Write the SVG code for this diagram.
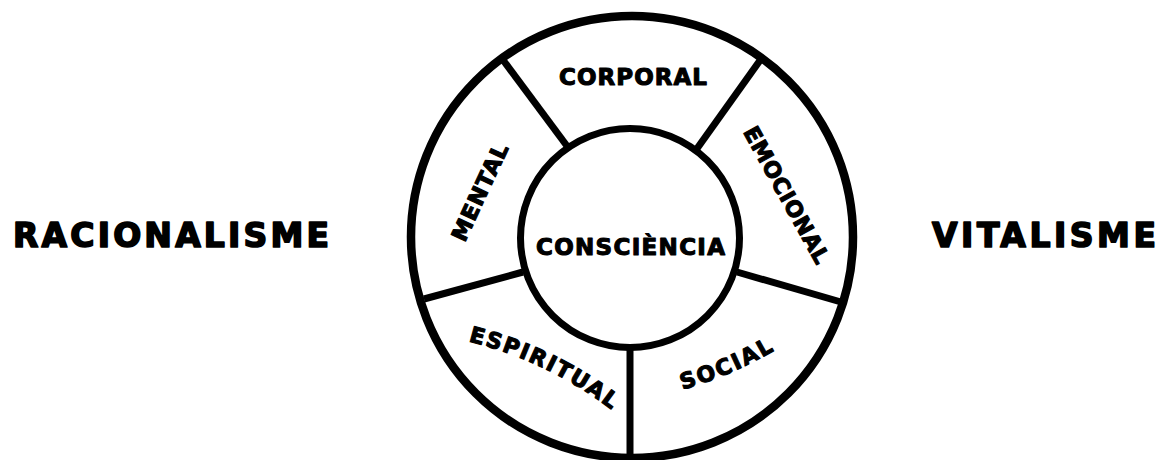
<svg xmlns="http://www.w3.org/2000/svg" width="1164" height="460" viewBox="0 0 1164 460">
<style>
.lbl{font-family:"DejaVu Sans","Liberation Sans",sans-serif;font-weight:bold;fill:#000;stroke:#000;stroke-width:1.1;stroke-linejoin:round;}
.big{font-size:33px;stroke-width:1.7;}
.sec{font-size:22px;}
.sec23{font-size:23px;}
.ring{fill:none;stroke:#000;}
.spoke{stroke:#000;stroke-width:7;stroke-linecap:butt;}
</style>
<defs>
<path id="espPath" d="M 463 340 A 390 390 0 0 1 617 414"/>
<path id="socPath" d="M 678 391 A 400 400 0 0 0 780 347"/>
</defs>
<rect width="1164" height="460" fill="#fff"/>
<g id="wheel">
<circle class="ring" cx="632" cy="237" r="221" stroke-width="8.5"/>
</g>
<g id="connectors">
<line class="spoke" x1="567" y1="146" x2="503" y2="60"/>
<line class="spoke" x1="696" y1="150" x2="761" y2="59"/>
<line class="spoke" x1="737" y1="272" x2="841" y2="302"/>
<line class="spoke" x1="630" y1="345" x2="630" y2="462"/>
<line class="spoke" x1="523" y1="272" x2="424" y2="299"/>
</g>
<g id="consciencia">
<circle cx="630" cy="238" r="109.5" fill="#fff" stroke="#000" stroke-width="7"/>
<text class="lbl sec23" x="536" y="255" textLength="189" lengthAdjust="spacing">CONSCIÈNCIA</text>
</g>
<g id="corporal">
<text class="lbl sec23" x="559" y="85" textLength="148" lengthAdjust="spacing">CORPORAL</text>
</g>
<g id="emocional">
<text class="lbl sec" x="780" y="199" text-anchor="middle" letter-spacing="0.6" transform="rotate(61 780 199)">EMOCIONAL</text>
</g>
<g id="social">
<text class="lbl sec" letter-spacing="2"><textPath href="#socPath" startOffset="50%" text-anchor="middle">SOCIAL</textPath></text>
</g>
<g id="espiritual">
<text class="lbl sec" letter-spacing="1.8"><textPath href="#espPath" startOffset="50%" text-anchor="middle">ESPIRITUAL</textPath></text>
</g>
<g id="mental">
<text class="lbl sec" x="487" y="195" text-anchor="middle" letter-spacing="1" transform="rotate(-65 487 195)">MENTAL</text>
</g>
<g id="racionalisme">
<text class="lbl big" x="13" y="247" textLength="316" lengthAdjust="spacing">RACIONALISME</text>
</g>
<g id="vitalisme">
<text class="lbl big" x="932" y="247" textLength="224" lengthAdjust="spacing">VITALISME</text>
</g>
</svg>
